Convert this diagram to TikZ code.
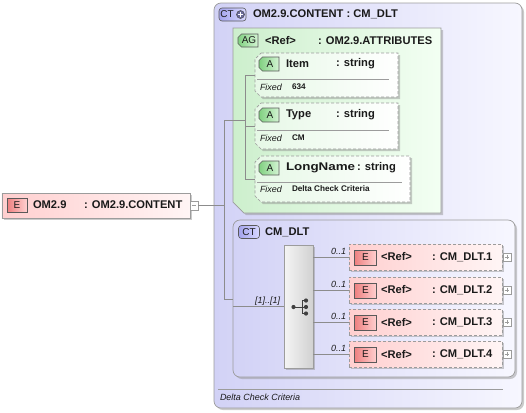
\documentclass[tikz,border=0pt]{standalone}
\usepackage{fontspec}
\usepackage{graphicx}
\setmainfont{Liberation Sans}
\usetikzlibrary{shadows,calc}
\definecolor{bgray}{HTML}{9C9C9C}
\definecolor{ctL}{HTML}{D2D2F6}
\definecolor{ctR}{HTML}{F7F7FF}
\definecolor{agL}{HTML}{CDEFCD}
\definecolor{agR}{HTML}{F3FFF3}
\definecolor{atL}{HTML}{E6F8E6}
\definecolor{elL}{HTML}{FFCFCF}
\definecolor{elR}{HTML}{FFF5F5}
\definecolor{eBL}{HTML}{EE8080}
\definecolor{eBR}{HTML}{FFD0D0}
\definecolor{aBL}{HTML}{80D080}
\definecolor{aBR}{HTML}{D4F4D4}
\definecolor{cBL}{HTML}{A4A4EC}
\definecolor{cBR}{HTML}{D8D8FF}
\definecolor{plusc}{HTML}{6A6A9A}
\definecolor{lineg}{HTML}{8C8C8C}
\definecolor{txt}{HTML}{1A1A1A}
% left-chamfered outline (both left corners) of a named node
\newcommand\chamLeft[3]{\path[#3] ($(#1.north west)+(#2,0)$) -- (#1.north east) -- (#1.south east) -- ($(#1.south west)+(#2,0)$) -- ($(#1.south west)+(0,-#2)$) -- ($(#1.north west)+(0,#2)$) -- cycle;}
% only south-west corner chamfered
\newcommand\chamSW[3]{\path[#3] (#1.north west) -- (#1.north east) -- (#1.south east) -- ($(#1.south west)+(#2,0)$) -- ($(#1.south west)+(0,-#2)$) -- cycle;}
\begin{document}
\begin{tikzpicture}[x=1bp,y=-1bp,
  every node/.style={inner sep=0pt,outer sep=0pt},
  shadowed/.style={drop shadow={shadow xshift=2bp,shadow yshift=-2bp,fill=black!45,opacity=0.45}},
  ctbox/.style={draw=bgray,line width=0.7bp,rounded corners=7bp,left color=ctL,right color=ctR,shadowed},
  agfill/.style={draw=bgray,line width=0.7bp,left color=agL,right color=agR,shadowed},
  atfill/.style={draw=bgray,line width=0.7bp,dash pattern=on 3bp off 2bp,left color=atL,right color=white,shadowed},
  abfill/.style={draw=black!65,line width=0.6bp,left color=aBL,right color=aBR},
  elbox/.style={draw=bgray,line width=0.7bp,left color=elL,right color=elR,shadowed},
  delbox/.style={elbox,dash pattern=on 3bp off 2bp},
  ebadge/.style={draw=black!65,line width=0.6bp,left color=eBL,right color=eBR,minimum width=20bp,minimum height=14bp,font=\fontsize{10}{10}\selectfont,text=txt},
  frame/.style={rectangle,draw=none},
  btxt/.style={font=\fontsize{10}{10}\selectfont,text=txt},
  ctbadge/.style={draw=black!65,line width=0.6bp,rounded corners=3bp,left color=cBL,right color=cBR,minimum height=13bp,font=\fontsize{10}{10}\selectfont,text=txt},
  bt/.style={anchor=west,font=\fontsize{11.2}{12}\selectfont\bfseries,text=txt},
  it/.style={font=\fontsize{9}{10}\selectfont\itshape,text=txt},
  tinyb/.style={anchor=west,font=\fontsize{8.2}{9}\selectfont\bfseries,text=txt},
  conn/.style={draw=lineg,line width=0.6bp},
  pm/.style={draw=bgray,fill=white,line width=0.5bp,minimum width=8bp,minimum height=8bp}
]
\useasboundingbox (0,0) rectangle (526,412);

% ---- outer complex type
\node[ctbox,minimum width=308bp,minimum height=405bp] (outer) at (368,205.5) {};
\node[ctbadge,minimum width=27bp] (ctp) at (232.5,14.5) {};
\node[btxt] (ctpt) at (227,14.5) {CT};
\node[circle,fill=plusc,draw=black!70,line width=0.5bp,minimum size=8bp] (ctpc) at (240.5,14.5) {};
\draw[white,line width=1.3bp] ($(ctpc)+(-2.5,0)$) -- ($(ctpc)+(2.5,0)$) ($(ctpc)+(0,-2.5)$) -- ($(ctpc)+(0,2.5)$);
\node[bt] (outert) at (253,14.5) {OM2.9.CONTENT : CM\_DLT};
\draw[draw=bgray,line width=0.6bp] (218,389) -- (503,389);
\node[it,anchor=west] (outerdoc) at (220,397) {Delta Check Criteria};

% ---- attribute group
\node[frame,minimum width=208bp,minimum height=185bp] (ag) at (337,120.5) {};
\chamSW{ag}{11}{agfill}
\node[frame,minimum width=20bp,minimum height=13bp] (agb) at (248,40.5) {};
\chamLeft{agb}{3.5}{abfill}
\node[btxt] (agbt) at (249,40.5) {AG};
\node[bt] (agref) at (265,40.5) {<Ref>};
\node[bt] (agtype) at (318,40.5) {: OM2.9.ATTRIBUTES};

% Item
\node[frame,minimum width=143bp,minimum height=44bp] (item) at (326.5,75) {};
\chamLeft{item}{6}{atfill}
\node[frame,minimum width=20bp,minimum height=14bp] (itemb) at (269,64) {};
\chamLeft{itemb}{3.5}{abfill}
\node[btxt] (itembt) at (270,64) {A};
\node[bt] (itemn) at (286,64) {Item};
\node[bt] (itemt) at (336,64) {: string};
\draw[draw=bgray,line width=0.6bp] (257,79.5) -- (389,79.5);
\node[it,anchor=west] (itemf) at (260,87) {Fixed};
\node[tinyb] (itemv) at (292,86.5) {634};

% Type
\node[frame,minimum width=143bp,minimum height=46bp] (type) at (326.5,126) {};
\chamLeft{type}{6}{atfill}
\node[frame,minimum width=20bp,minimum height=14bp] (typeb) at (269,115) {};
\chamLeft{typeb}{3.5}{abfill}
\node[btxt] (typebt) at (270,115) {A};
\node[bt] (typen) at (286,115) {Type};
\node[bt] (typet) at (336,115) {: string};
\draw[draw=bgray,line width=0.6bp] (257,130.5) -- (389,130.5);
\node[it,anchor=west] (typef) at (260,138) {Fixed};
\node[tinyb] (typev) at (292,137.5) {CM};

% LongName
\node[frame,minimum width=155bp,minimum height=46bp] (lname) at (332.5,179) {};
\chamLeft{lname}{6}{atfill}
\node[frame,minimum width=20bp,minimum height=14bp] (lnameb) at (269,168) {};
\chamLeft{lnameb}{3.5}{abfill}
\node[btxt] (lnamebt) at (270,168) {A};
\node[bt] (lnamen) at (286,168) {\scalebox{1.2}[1]{LongName}};
\node[bt] (lnamet) at (357,168) {: string};
\draw[draw=bgray,line width=0.6bp] (257,182.5) -- (402,182.5);
\node[it,anchor=west] (lnamef) at (260,189.5) {Fixed};
\node[tinyb] (lnamev) at (292,189) {Delta Check Criteria};

% attribute tree
\coordinate (tt) at (245,75);
\coordinate (tm) at (245,120);
\coordinate (tb) at (245,179);
\draw[conn] (tt) -- (tb);
\draw[conn] (tt) -- (item.west);
\draw[conn] (tb |- type.west) -- (type.west);
\draw[conn] (tb) -- (lname.west);

% ---- main element
\node[elbox,minimum width=188bp,minimum height=25bp] (om) at (96,205.5) {};
\node[ebadge] (omb) at (17,205) {E};
\node[bt] (omn) at (33,205) {OM2.9};
\node[bt] (omt) at (84,205) {: OM2.9.CONTENT};
\node[pm,minimum height=9bp] (omm) at (194,205.5) {};
\draw[bgray,line width=0.6bp] ($(omm)+(-2.3,0)$) -- ($(omm)+(2.3,0)$);

% main tree
\coordinate (ja) at (224,120);
\coordinate (jm) at (224,205.5);
\coordinate (jb) at (224,299);
\draw[conn] (ja) -- (jb);
\draw[conn] (omm.east) -- (jm);
\draw[conn] (ja) -- (tm);

% ---- CM_DLT complex type
\node[ctbox,minimum width=282bp,minimum height=157bp] (cm) at (374,298.5) {};
\node[ctbadge,minimum width=21bp] (cmb) at (249,232) {CT};
\node[bt] (cmt) at (265,232) {CM\_DLT};
\draw[conn] (jb) -- (jb -| cm.west);

% compositor
\node[draw=bgray,line width=0.7bp,left color=white!96!black,right color=black!18,minimum width=29bp,minimum height=123bp,shadowed] (comp) at (298.5,306.5) {};
\draw[conn] (cm.west |- comp.west) -- (comp.west);
\node[it,anchor=east] (mult) at (280,301.5) {[1]..[1]};
% compositor icon
\coordinate (ic) at (300,307);
\draw[black!75,line width=0.9bp] ($(ic)+(-6.5,0)$) -- ($(ic)+(6,0)$) ($(ic)+(2,-6.5)$) -- ($(ic)+(2,6.5)$) ($(ic)+(2,-6.5)$) -- ($(ic)+(6,-6.5)$) ($(ic)+(2,6.5)$) -- ($(ic)+(6,6.5)$);
\fill[black!75] ($(ic)+(-6.5,0)$) circle (2.1bp) ($(ic)+(6,-6.5)$) circle (2.1bp) ($(ic)+(6,0)$) circle (2.1bp) ($(ic)+(6,6.5)$) circle (2.1bp);

% elements
\foreach \i/\y in {1/257,2/290,3/322,4/354}{
  \node[delbox,minimum width=153bp,minimum height=26bp] (el\i) at (425.5,\y) {};
  \node[ebadge,minimum width=22bp,minimum height=15bp] (elb\i) at (365.5,\y+0.5) {E};
  \node[bt] (elr\i) at (381,\y) {<Ref>};
  \node[bt] (elt\i) at (432,\y) {: CM\_DLT.\i};
  \node[pm] (elp\i) at (507,\y) {};
  \draw[bgray,line width=0.6bp] ($(elp\i)+(-2.3,0)$) -- ($(elp\i)+(2.3,0)$) ($(elp\i)+(0,-2.3)$) -- ($(elp\i)+(0,2.3)$);
  \draw[conn] (comp.east |- el\i.west) -- (el\i.west);
  \node[it,anchor=east] (m\i) at (346,\y-6) {0..1};
}
\end{tikzpicture}
\end{document}
